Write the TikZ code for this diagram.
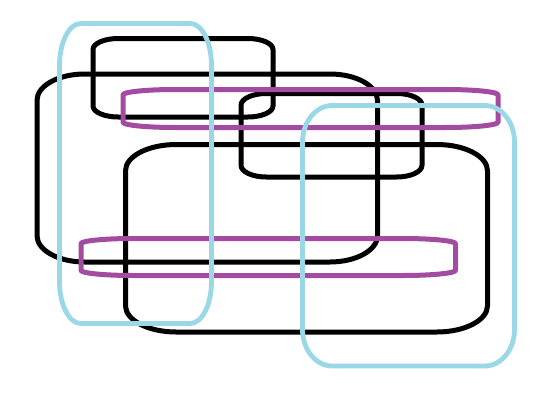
\documentclass[tikz,border=0pt]{standalone}
\definecolor{setblue}{RGB}{154,216,232}
\definecolor{setpurple}{RGB}{162,75,161}
\tikzset{
  blackset/.style={draw=black,line width=5pt},
  purpleset/.style={draw=setpurple,line width=5pt},
  blueset/.style={draw=setblue,line width=4.8pt},
}
% rounded rectangle with elliptical corners (14% of width/height)
\newcommand{\ellrect}[5][]{%
  \pgfmathsetmacro\ERax{#2}\pgfmathsetmacro\ERay{#3}%
  \pgfmathsetmacro\ERbx{#4}\pgfmathsetmacro\ERby{#5}%
  \pgfmathsetmacro\ERrx{0.14*(\ERbx-\ERax)}\pgfmathsetmacro\ERry{0.14*(\ERby-\ERay)}%
  \pgfmathsetmacro\ERkx{0.448*\ERrx}\pgfmathsetmacro\ERky{0.448*\ERry}%
  \draw[#1] (\ERax+\ERrx,\ERay) -- (\ERbx-\ERrx,\ERay)
    .. controls (\ERbx-\ERkx,\ERay) and (\ERbx,\ERay+\ERky) .. (\ERbx,\ERay+\ERry)
    -- (\ERbx,\ERby-\ERry)
    .. controls (\ERbx,\ERby-\ERky) and (\ERbx-\ERkx,\ERby) .. (\ERbx-\ERrx,\ERby)
    -- (\ERax+\ERrx,\ERby)
    .. controls (\ERax+\ERkx,\ERby) and (\ERax,\ERby-\ERky) .. (\ERax,\ERby-\ERry)
    -- (\ERax,\ERay+\ERry)
    .. controls (\ERax,\ERay+\ERky) and (\ERax+\ERkx,\ERay) .. (\ERax+\ERrx,\ERay)
    -- cycle;}
\begin{document}
\begin{tikzpicture}[x=1pt,y=-1pt,line join=round]
\useasboundingbox[fill=white] (0,0) rectangle (549,405);
% black sets
\ellrect[blackset]{93}{38.5}{273}{117}
\ellrect[blackset]{37}{74}{377.5}{262}
\ellrect[blackset]{241}{93.5}{422}{177}
\ellrect[blackset]{125.5}{144.5}{487.5}{332}
% purple sets
\ellrect[purpleset]{123}{89.5}{498}{127.5}
\ellrect[purpleset]{81}{238.5}{455.5}{275.5}
% blue sets
\ellrect[blueset]{59.5}{23.5}{211.5}{323.5}
\ellrect[blueset]{302.5}{105.5}{514.5}{366}
\end{tikzpicture}
\end{document}
